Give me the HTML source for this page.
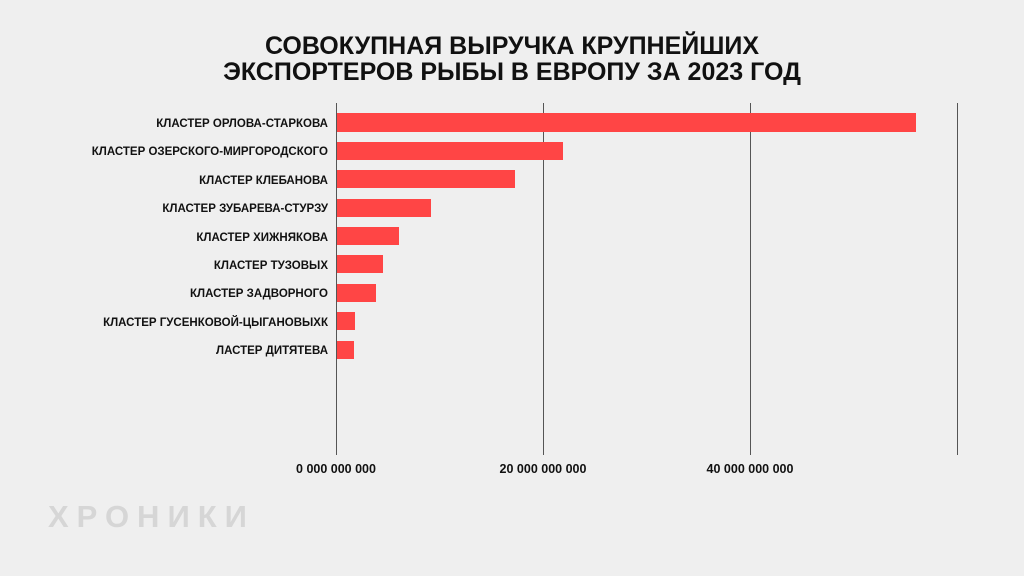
<!DOCTYPE html>
<html><head><meta charset="utf-8"><style>
html,body{margin:0;padding:0;background:#efefef;}
svg{display:block;}
text{font-family:"Liberation Sans","DejaVu Sans",sans-serif;}
</style></head><body>
<svg width="1024" height="576" viewBox="0 0 1024 576" xmlns="http://www.w3.org/2000/svg">
<rect width="1024" height="576" fill="#efefef"/>
<text x="512" y="54" text-anchor="middle" font-size="25" font-weight="bold" fill="#111">СОВОКУПНАЯ ВЫРУЧКА КРУПНЕЙШИХ</text>
<text x="512" y="80" text-anchor="middle" font-size="25" font-weight="bold" fill="#111">ЭКСПОРТЕРОВ РЫБЫ В ЕВРОПУ ЗА 2023 ГОД</text>
<g stroke="#555" stroke-width="1">
<line x1="336.5" y1="103" x2="336.5" y2="455"/>
<line x1="543.5" y1="103" x2="543.5" y2="455"/>
<line x1="750.5" y1="103" x2="750.5" y2="455"/>
<line x1="957.5" y1="103" x2="957.5" y2="455"/>
</g>
<g fill="#ff4545">
<rect x="337" y="113" width="579" height="19"/>
<rect x="337" y="142" width="226" height="18"/>
<rect x="337" y="170" width="178" height="18"/>
<rect x="337" y="199" width="94" height="18"/>
<rect x="337" y="227" width="62" height="18"/>
<rect x="337" y="255" width="46" height="18"/>
<rect x="337" y="284" width="39" height="18"/>
<rect x="337" y="312" width="18" height="18"/>
<rect x="337" y="341" width="17" height="18"/>
</g>
<g font-size="11.5" font-weight="bold" fill="#111" text-anchor="end">
<text x="328" y="127">КЛАСТЕР ОРЛОВА-СТАРКОВА</text>
<text x="328" y="155">КЛАСТЕР ОЗЕРСКОГО-МИРГОРОДСКОГО</text>
<text x="328" y="184">КЛАСТЕР КЛЕБАНОВА</text>
<text x="328" y="212">КЛАСТЕР ЗУБАРЕВА-СТУРЗУ</text>
<text x="328" y="241">КЛАСТЕР ХИЖНЯКОВА</text>
<text x="328" y="269">КЛАСТЕР ТУЗОВЫХ</text>
<text x="328" y="297">КЛАСТЕР ЗАДВОРНОГО</text>
<text x="328" y="326">КЛАСТЕР ГУСЕНКОВОЙ-ЦЫГАНОВЫХК</text>
<text x="328" y="354">ЛАСТЕР ДИТЯТЕВА</text>
</g>
<g font-size="12.5" font-weight="bold" fill="#111" text-anchor="middle">
<text x="336" y="473">0 000 000 000</text>
<text x="543" y="473">20 000 000 000</text>
<text x="750" y="473">40 000 000 000</text>
</g>
<text x="48" y="527" font-size="31" font-weight="bold" fill="#d6d6d6" letter-spacing="8">ХРОНИКИ</text>
</svg>
</body></html>
